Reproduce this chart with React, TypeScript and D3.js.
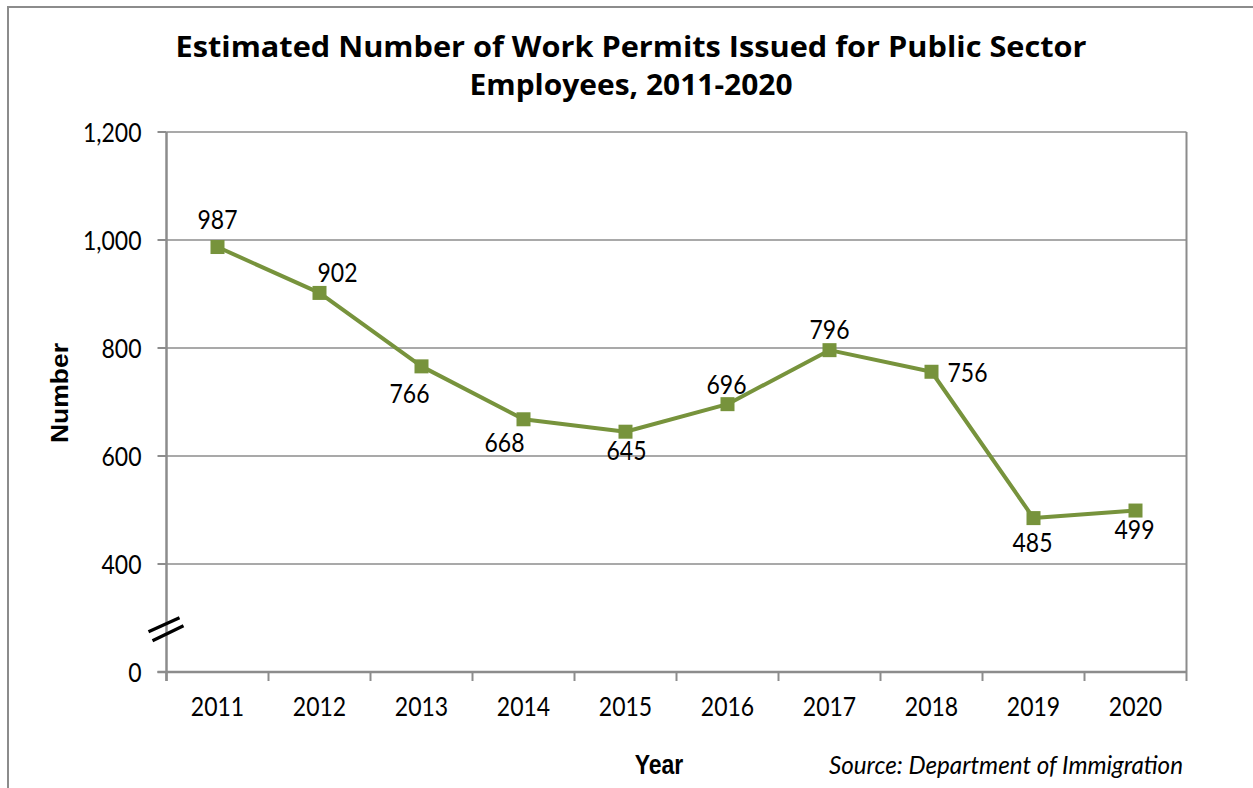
import * as d3 from "d3";

// ---- data ----
const YEARS = ["2011", "2012", "2013", "2014", "2015", "2016", "2017", "2018", "2019", "2020"];
const PERMITS = [987, 902, 766, 668, 645, 696, 796, 756, 485, 499];
const Y_TICKS = [200, 400, 600, 800, 1000, 1200];
const Y_TICK_LABELS = ["0", "400", "600", "800", "1,000", "1,200"];
const TITLE_LINES = ["Estimated Number of Work Permits Issued for Public Sector", "Employees, 2011-2020"];
const X_TITLE = "Year";
const Y_TITLE = "Number";
const SOURCE = "Source: Department of Immigration";

// data label placement relative to marker (layout only)
const LABEL_OFFSET: [number, number][] = [
  [0, -28], [18, -21], [-12, 27], [-19, 23], [1, 18],
  [-1, -20], [0, -21], [36, 0], [-1, 24], [-1, 18],
];

const W = 1253;
const H = 788;
const PLOT = { left: 166.5, right: 1186.5, top: 132, bottom: 672 };
const GREEN = "#77933C";
const GRID = "#8c8c8c";
const FONT = "Lato, 'Open Sans', sans-serif";
const ARIAL = "'Liberation Sans', Arial, sans-serif";
const STRETCH = 1.15;

function Label({ x, y, text, size = 23 }: { x: number; y: number; text: string; size?: number }) {
  return (
    <g transform={`translate(${x},${y}) scale(1,${STRETCH})`}>
      <text textAnchor="middle" dominantBaseline="central" fontFamily={FONT} fontSize={size} fill="#000">
        {text}
      </text>
    </g>
  );
}

export default function App() {
  const x = d3.scaleBand<string>().domain(YEARS).range([PLOT.left, PLOT.right]);
  const y = d3.scaleLinear().domain([200, 1200]).range([PLOT.bottom, PLOT.top]);
  const cx = (i: number) => (x(YEARS[i]) ?? 0) + x.bandwidth() / 2;

  const line = d3
    .line<number>()
    .x((_, i) => cx(i))
    .y((d) => y(d));

  const boundaries = [...YEARS.map((yr) => x(yr) ?? 0), PLOT.right];
  const breakY = y(280);
  const breakX = PLOT.left - 1;

  return (
    <svg
      width={W}
      height={H}
      style={{ position: "absolute", left: 0, top: 0, background: "#fff" }}
    >
      <rect x={0} y={0} width={W} height={H} fill="#fff" />
      {/* outer frame */}
      <rect x={8} y={7} width={W + 50} height={H + 50} fill="none" stroke={GRID} strokeWidth={2} />

      {/* title */}
      {TITLE_LINES.map((t, i) => (
        <text
          key={t}
          x={631}
          y={57 + i * 38}
          textAnchor="middle"
          fontFamily="'Open Sans', Lato, sans-serif"
          fontWeight="bold"
          fontSize={29}
          textLength={i === 0 ? 911 : 323}
          lengthAdjust="spacingAndGlyphs"
        >
          {t}
        </text>
      ))}

      {/* gridlines */}
      {Y_TICKS.filter((v) => v > 200).map((v) => (
        <line key={v} x1={PLOT.left} x2={PLOT.right} y1={y(v)} y2={y(v)} stroke={GRID} strokeWidth={1.5} />
      ))}
      {/* plot frame right side */}
      <line x1={PLOT.right} x2={PLOT.right} y1={PLOT.top} y2={PLOT.bottom} stroke={GRID} strokeWidth={2} />

      {/* y axis */}
      <line x1={PLOT.left} x2={PLOT.left} y1={PLOT.top} y2={PLOT.bottom + 9} stroke={GRID} strokeWidth={2.5} />
      {Y_TICKS.map((v, i) => (
        <g key={v}>
          <line x1={PLOT.left - 9} x2={PLOT.left} y1={y(v)} y2={y(v)} stroke={GRID} strokeWidth={2} />
          <g transform={`translate(${PLOT.left - 25},${y(v)}) scale(1,${STRETCH})`}>
            <text textAnchor="end" dominantBaseline="central" fontFamily={FONT} fontSize={23}>
              {Y_TICK_LABELS[i]}
            </text>
          </g>
        </g>
      ))}

      {/* axis break */}
      <g stroke="#000" strokeWidth={3.2}>
        <line x1={breakX - 17} y1={breakY + 3} x2={breakX + 14} y2={breakY - 11} />
        <line x1={breakX - 13} y1={breakY + 12} x2={breakX + 18} y2={breakY - 3} />
      </g>

      {/* x axis */}
      <line x1={PLOT.left - 9} x2={PLOT.right} y1={PLOT.bottom} y2={PLOT.bottom} stroke={GRID} strokeWidth={2.5} />
      {boundaries.map((bx, i) => (
        <line key={i} x1={bx} x2={bx} y1={PLOT.bottom} y2={PLOT.bottom + 9} stroke={GRID} strokeWidth={2} />
      ))}
      {YEARS.map((yr, i) => (
        <Label key={yr} x={cx(i)} y={706} text={yr} />
      ))}

      {/* series */}
      <path d={line(PERMITS) ?? ""} fill="none" stroke={GREEN} strokeWidth={4} strokeLinejoin="round" />
      {PERMITS.map((v, i) => (
        <rect key={i} x={cx(i) - 7} y={y(v) - 7} width={14} height={14} fill={GREEN} />
      ))}
      {PERMITS.map((v, i) => (
        <Label key={i} x={cx(i) + LABEL_OFFSET[i][0]} y={y(v) + LABEL_OFFSET[i][1]} text={String(v)} />
      ))}

      {/* axis titles */}
      <g transform={`translate(60,393) rotate(-90)`}>
        <text
          textAnchor="middle"
          dominantBaseline="central"
          fontFamily={ARIAL}
          fontWeight="bold"
          fontSize={23}
          textLength={100}
          lengthAdjust="spacingAndGlyphs"
        >
          {Y_TITLE}
        </text>
      </g>
      <g transform={`translate(659,764) scale(1,1.2)`}>
        <text textAnchor="middle" dominantBaseline="central" fontFamily={ARIAL} fontWeight="bold" fontSize={23}>
          {X_TITLE}
        </text>
      </g>
      <g transform={`translate(1183,764) scale(1,${STRETCH})`}>
        <text
          textAnchor="end"
          dominantBaseline="central"
          fontFamily={FONT}
          fontStyle="italic"
          fontSize={22}
          textLength={354}
          lengthAdjust="spacingAndGlyphs"
        >
          {SOURCE}
        </text>
      </g>
    </svg>
  );
}
